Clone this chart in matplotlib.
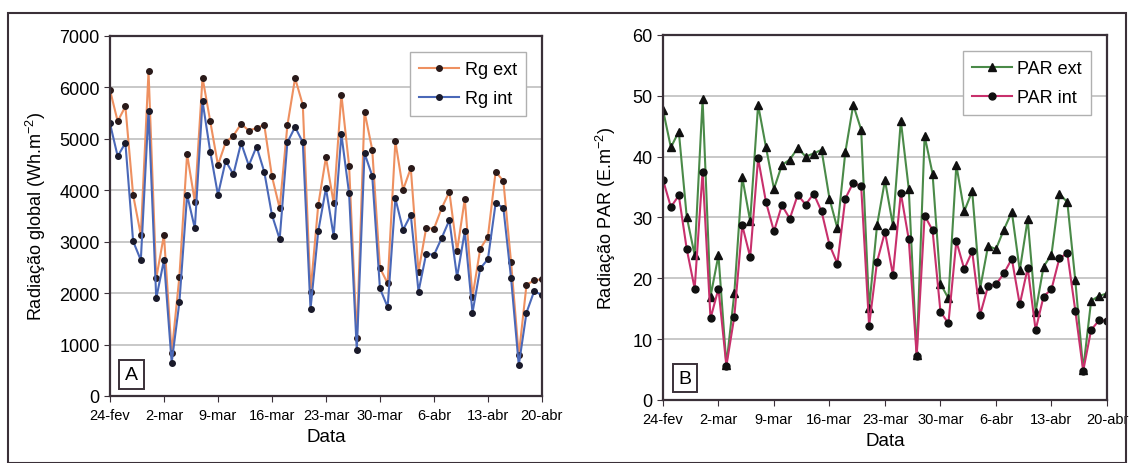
import numpy as np
import matplotlib
matplotlib.use("Agg")
from matplotlib import pyplot as plt
from matplotlib.patches import Rectangle

plt.rcParams["font.family"] = ["Liberation Sans", "DejaVu Sans"]
plt.rcParams["mathtext.default"] = "regular"

tick_labels = ["24-fev", "2-mar", "9-mar", "16-mar", "23-mar", "30-mar", "6-abr", "13-abr", "20-abr"]

# radiacao global (Wh/m2), 24-fev .. 20-abr
rg_ext = [5950, 5340, 5630, 3910, 3130, 6310, 2290, 3130, 830, 2320,
          4700, 3780, 6190, 5340, 4490, 4930, 5060, 5290, 5160, 5210,
          5270, 4270, 3650, 5260, 6180, 5660, 2030, 3710, 4640, 3750,
          5860, 4480, 1120, 5530, 4790, 2490, 2190, 4950, 4010, 4430,
          2420, 3270, 3250, 3650, 3970, 2820, 3830, 1930, 2860, 3100,
          4360, 4180, 2600, 790, 2160, 2250, 2270]
rg_int = [5300, 4660, 4920, 3010, 2640, 5550, 1900, 2640, 650, 1820,
          3910, 3260, 5730, 4750, 3910, 4570, 4310, 4920, 4480, 4850,
          4360, 3520, 3050, 4930, 5230, 4930, 1690, 3200, 4040, 3110,
          5090, 3940, 890, 4720, 4280, 2090, 1730, 3840, 3230, 3520,
          2030, 2770, 2740, 3070, 3420, 2310, 3200, 1620, 2480, 2660,
          3750, 3660, 2290, 600, 1620, 2040, 1960]

# PAR (E/m2)
par_ext = [47.7, 41.5, 44.1, 30.1, 23.8, 49.4, 17.0, 23.8, 5.8, 17.5,
           36.6, 29.4, 48.5, 41.5, 34.7, 38.6, 39.5, 41.4, 40.0, 40.5,
           41.1, 33.1, 28.2, 40.7, 48.5, 44.4, 15.1, 28.7, 36.1, 28.7,
           45.9, 34.7, 7.4, 43.4, 37.2, 19.1, 16.7, 38.6, 31.0, 34.3,
           18.3, 25.3, 24.8, 28.0, 30.9, 21.3, 29.7, 14.5, 21.9, 23.9,
           33.9, 32.5, 19.7, 5.0, 16.3, 17.1, 17.5]
par_int = [36.2, 31.7, 33.6, 24.8, 18.3, 37.5, 13.4, 18.3, 5.6, 13.7,
           28.7, 23.5, 39.7, 32.5, 27.7, 32.0, 29.8, 33.7, 32.1, 33.9,
           31.0, 25.5, 22.4, 33.1, 35.7, 35.1, 12.2, 22.7, 27.6, 20.6,
           34.0, 26.4, 7.2, 30.3, 27.9, 14.5, 12.6, 26.1, 21.5, 24.4,
           14.0, 18.7, 19.0, 20.8, 23.2, 15.7, 21.7, 11.5, 17.0, 18.2,
           23.3, 24.1, 14.7, 4.8, 11.5, 13.1, 13.0]

days = np.arange(len(rg_ext))

fig = plt.figure(figsize=(11.29, 4.64), dpi=100)
fig.patches.append(Rectangle((0.007, 0.0), 0.99, 0.97, transform=fig.transFigure,
                             fill=False, edgecolor="#3a3038", linewidth=1.5))

ax1 = fig.add_axes([0.0974, 0.1444, 0.3826, 0.776])
ax2 = fig.add_axes([0.5872, 0.1358, 0.3933, 0.787])


def style(ax, ymax, ystep):
    ax.set_xlim(0, 56)
    ax.set_ylim(0, ymax)
    ax.set_yticks(np.arange(0, ymax + ystep, ystep))
    ax.set_xticks(np.arange(0, 57, 7))
    ax.set_xticklabels(tick_labels, fontsize=10.5)
    ax.tick_params(axis="y", labelsize=13, direction="out", length=4, color="#3a3038")
    ax.tick_params(axis="x", direction="out", length=4, pad=5, color="#3a3038")
    ax.grid(axis="y", color="#c8c8c8", linewidth=1.4)
    ax.set_axisbelow(True)
    for s in ax.spines.values():
        s.set_color("#3a3038")
        s.set_linewidth(1.6)
    ax.set_xlabel("Data", fontsize=13.5, labelpad=4)


def legend(ax):
    leg = ax.legend(loc="upper right", fontsize=13, frameon=True, fancybox=False,
                    edgecolor="#b0b0b0", framealpha=1, handlelength=2.2,
                    borderaxespad=0.9, labelspacing=0.65, handletextpad=0.3,
                    borderpad=0.5)
    leg.get_frame().set_linewidth(1.0)


ax1.plot(days, rg_ext, color="#ee9060", linewidth=1.5, marker="o", markersize=4,
         markerfacecolor="#2a1a1a", markeredgecolor="#2a1a1a", label="Rg ext")
ax1.plot(days, rg_int, color="#4a68b8", linewidth=1.5, marker="o", markersize=4,
         markerfacecolor="#1a1a2a", markeredgecolor="#1a1a2a", label="Rg int")
style(ax1, 7000, 1000)
ax1.set_ylabel("Radiação global (Wh.m$^{-2}$)", fontsize=13, labelpad=8)
legend(ax1)
ax1.text(0.05, 0.06, "A", transform=ax1.transAxes, fontsize=14, ha="center", va="center",
         bbox=dict(boxstyle="square,pad=0.3", facecolor="white", edgecolor="#3a3038", linewidth=1.4))

ax2.plot(days, par_ext, color="#4a8a48", linewidth=1.5, marker="^", markersize=5.5,
         markerfacecolor="#101010", markeredgecolor="#101010", label="PAR ext")
ax2.plot(days, par_int, color="#c8306c", linewidth=1.5, marker="o", markersize=5,
         markerfacecolor="#101010", markeredgecolor="#101010", label="PAR int")
style(ax2, 60, 10)
ax2.set_ylabel("Radiação PAR (E.m$^{-2}$)", fontsize=13, labelpad=10)
legend(ax2)
ax2.text(0.05, 0.06, "B", transform=ax2.transAxes, fontsize=14, ha="center", va="center",
         bbox=dict(boxstyle="square,pad=0.3", facecolor="white", edgecolor="#3a3038", linewidth=1.4))

plt.savefig("out.png", dpi=100)
